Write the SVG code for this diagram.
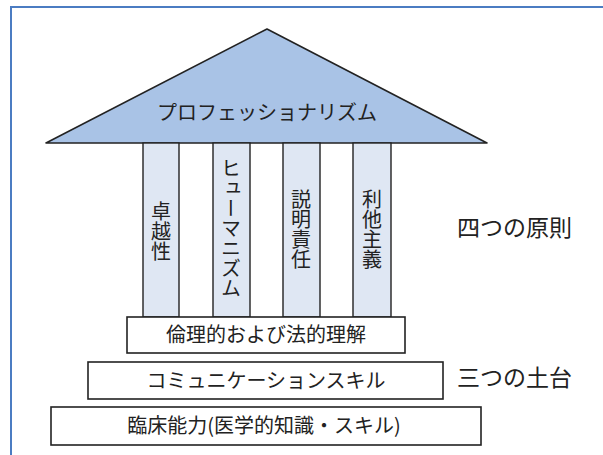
<svg xmlns="http://www.w3.org/2000/svg" width="603" height="455" viewBox="0 0 603 455">
<style>
.t{font-family:"Noto Sans CJK JP","Noto Sans",sans-serif;fill:#222;}
.box{fill:#fff;stroke:#222;stroke-width:1.6;}
.col{fill:#dfe7f3;stroke:#222;stroke-width:1.4;}
.v{writing-mode:vertical-rl;text-anchor:middle;font-size:20px;}
.h{text-anchor:middle;font-size:20px;}
.lbl{font-size:23px;}
</style>
<rect x="0" y="0" width="603" height="455" fill="#fff"/>
<path d="M11,455 V7 H603" fill="none" stroke="#4b7cc2" stroke-width="2"/>
<g id="roof">
<polygon points="267,29 46,143 487,143" fill="#a9c3e6" stroke="#222" stroke-width="1.6" stroke-linejoin="round"/>
<text class="t h" x="267" y="120">プロフェッショナリズム</text>
</g>
<g id="pillar1">
<rect class="col" x="143" y="143" width="36" height="174"/>
<text class="t v" x="161" y="231">卓越性</text>
</g>
<g id="pillar2">
<rect class="col" x="213" y="143" width="37" height="174"/>
<text class="t v" x="231" y="228">ヒューマニズム</text>
</g>
<g id="pillar3">
<rect class="col" x="283" y="143" width="37" height="174"/>
<text class="t v" x="301" y="229">説明責任</text>
</g>
<g id="pillar4">
<rect class="col" x="353" y="143" width="38" height="174"/>
<text class="t v" x="372" y="229">利他主義</text>
</g>
<g id="base1">
<rect class="box" x="127" y="317" width="278" height="36"/>
<text class="t h" x="266" y="342">倫理的および法的理解</text>
</g>
<g id="base2">
<rect class="box" x="88" y="362" width="355" height="37"/>
<text class="t h" x="266" y="388">コミュニケーションスキル</text>
</g>
<g id="base3">
<rect class="box" x="51" y="407" width="430" height="38"/>
<text class="t h" x="264" y="433">臨床能力(医学的知識・スキル)</text>
</g>
<g id="labels">
<text class="t lbl" x="457" y="236">四つの原則</text>
<text class="t lbl" x="457" y="386">三つの土台</text>
</g>
<g id="connectors"/>
</svg>
